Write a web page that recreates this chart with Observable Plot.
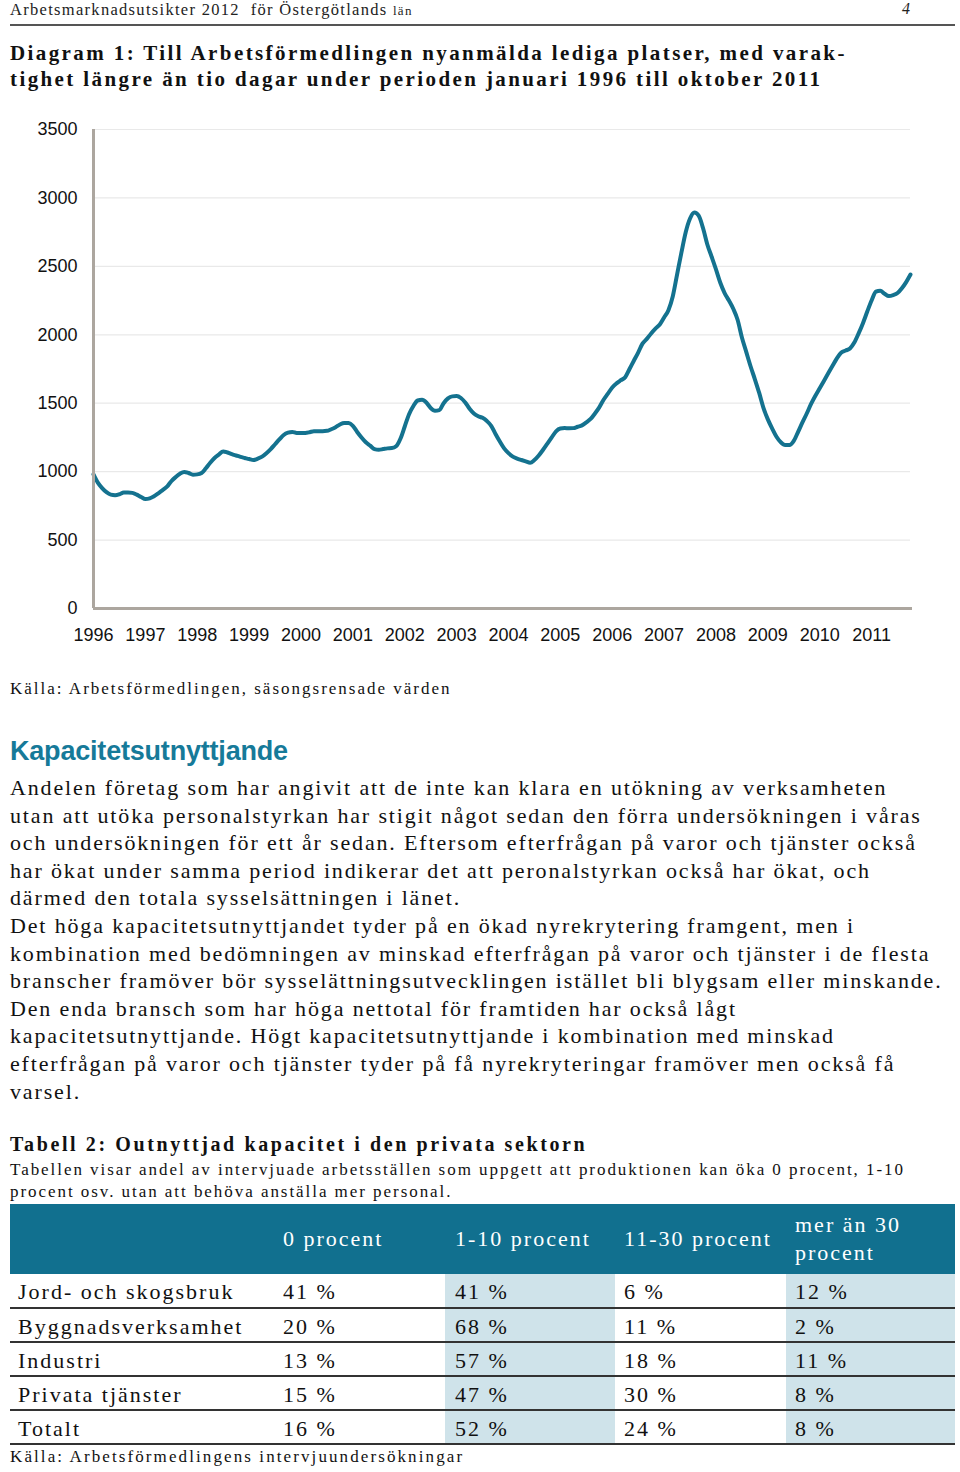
<!DOCTYPE html>
<html>
<head>
<meta charset="utf-8">
<script src="https://cdn.jsdelivr.net/npm/d3@7"></script>
<script src="https://cdn.jsdelivr.net/npm/@observablehq/plot@0.6"></script>
<style>
  html, body { margin: 0; padding: 0; background: #fff; }
  body { width: 960px; height: 1472px; position: relative; overflow: hidden; font-family: "Liberation Serif", "DejaVu Serif", serif; color: #111; }
  .abs { position: absolute; white-space: nowrap; }
  #pagehead { left: 10px; top: 0px; font-size: 16.5px; letter-spacing: 1.3px; color: #222; }
  #pagehead .small { font-size: 13px; }
  #pagenum { left: 902px; top: 0px; font-size: 16px; font-style: italic; color: #222; }
  #rule { left: 10px; top: 24px; width: 945px; height: 2px; background: #555; }
  #title { left: 10px; top: 41px; font-size: 21px; font-weight: bold; letter-spacing: 2.4px; line-height: 25.5px; }
  #chart { left: 0; top: 110px; }
  #source1 { left: 10px; top: 679px; font-size: 17px; letter-spacing: 2.0px; }
  #heading { left: 10px; top: 736px; font-family: "Liberation Sans", Arial, sans-serif; font-weight: bold; font-size: 27px; color: #167a99; letter-spacing: -0.2px; }
  #bodytext { left: 10px; top: 774px; font-size: 22px; line-height: 27.6px; letter-spacing: 1.85px; }
  #tabtitle { left: 10px; top: 1133px; font-size: 20px; font-weight: bold; letter-spacing: 2.6px; }
  #tabsub { left: 10px; top: 1159px; font-size: 17px; line-height: 22px; letter-spacing: 1.95px; }
  #table { left: 10px; top: 1204px; width: 945px; border-collapse: collapse; table-layout: fixed; font-size: 22px; letter-spacing: 2px; }
  #table td, #table th { padding: 0; vertical-align: middle; text-align: left; font-weight: normal; box-sizing: border-box; overflow: hidden; }
  #table thead tr { height: 70px; background: #11708f; color: #fff; }
  #table thead th { line-height: 28px; }
  #table tbody tr { height: 34px; border-bottom: 2px solid #333; }
  #table tbody td { padding-top: 3px; }
  #table .c0 { width: 263px; padding-left: 8px; }
  #table .c1 { width: 172px; padding-left: 10px; }
  #table .c2 { width: 170px; padding-left: 10px; }
  #table .c3 { width: 171px; padding-left: 9px; }
  #table .c4 { width: 169px; padding-left: 9px; }
  #table tbody .c2, #table tbody .c4 { background: #cfe3ea; }
  #source2 { left: 10px; top: 1447px; font-size: 17px; letter-spacing: 2.1px; }
</style>
</head>
<body>
<div id="pagehead" class="abs">Arbetsmarknadsutsikter 2012&nbsp; för Östergötlands <span class="small">län</span></div>
<div id="pagenum" class="abs">4</div>
<div id="rule" class="abs"></div>
<div id="title" class="abs">Diagram 1: Till Arbetsförmedlingen nyanmälda lediga platser, med varak-<br>tighet längre än tio dagar under perioden januari 1996 till oktober 2011</div>
<div id="chart" class="abs"></div>
<div id="source1" class="abs">Källa: Arbetsförmedlingen, säsongsrensade värden</div>
<div id="heading" class="abs">Kapacitetsutnyttjande</div>
<div id="bodytext" class="abs"></div>
<div id="tabtitle" class="abs">Tabell 2: Outnyttjad kapacitet i den privata sektorn</div>
<div id="tabsub" class="abs">Tabellen visar andel av intervjuade arbetsställen som uppgett att produktionen kan öka 0 procent, 1-10<br>procent osv. utan att behöva anställa mer personal.</div>
<table id="table" class="abs"></table>
<div id="source2" class="abs">Källa: Arbetsförmedlingens intervjuundersökningar</div>

<script>
// ---- Chart data: monthly values, Jan 1996 – Oct 2011 ----
const startYear = 1996;
const v1996 = [980, 920, 880, 850, 832, 828, 835, 848, 848, 845, 832, 815];
const v1997 = [800, 805, 820, 842, 865, 890, 930, 960, 985, 998, 990, 978];
const v1998 = [980, 990, 1025, 1065, 1100, 1125, 1148, 1140, 1128, 1118, 1108, 1100];
const v1999 = [1092, 1085, 1095, 1110, 1135, 1165, 1200, 1235, 1268, 1285, 1290, 1283];
const v2000 = [1283, 1283, 1288, 1296, 1296, 1296, 1298, 1310, 1325, 1345, 1356, 1355];
const v2001 = [1335, 1290, 1250, 1215, 1190, 1165, 1160, 1165, 1170, 1172, 1185, 1240];
const v2002 = [1330, 1420, 1480, 1520, 1525, 1505, 1465, 1445, 1450, 1500, 1535, 1550];
const v2003 = [1552, 1538, 1505, 1460, 1425, 1405, 1393, 1370, 1335, 1275, 1220, 1170];
const v2004 = [1135, 1110, 1095, 1085, 1075, 1065, 1085, 1118, 1160, 1205, 1250, 1295];
const v2005 = [1315, 1318, 1317, 1318, 1328, 1338, 1360, 1385, 1425, 1470, 1525, 1570];
const v2006 = [1615, 1645, 1668, 1690, 1750, 1810, 1870, 1935, 1970, 2010, 2045, 2075];
const v2007 = [2126, 2180, 2280, 2440, 2600, 2750, 2850, 2893, 2870, 2780, 2660, 2570];
const v2008 = [2478, 2380, 2305, 2250, 2190, 2110, 1980, 1875, 1770, 1675, 1575, 1465];
const v2009 = [1382, 1315, 1255, 1215, 1195, 1195, 1225, 1291, 1360, 1425, 1495, 1555];
const v2010 = [1610, 1665, 1720, 1775, 1830, 1870, 1885, 1900, 1943, 2010, 2085, 2170];
const v2011 = [2250, 2315, 2322, 2300, 2283, 2290, 2305, 2340, 2385, 2440];
const yearTicks = [1996, 1997, 1998, 1999, 2000, 2001, 2002, 2003, 2004, 2005, 2006, 2007, 2008, 2009, 2010, 2011];
const valueTicks = [0, 500, 1000, 1500, 2000, 2500, 3000, 3500];

// ---- Table data ----
const tableColumns = ["0 procent", "1-10 procent", "11-30 procent", "mer än 30<br>procent"];
const tableRows = ["Jord- och skogsbruk", "Byggnadsverksamhet", "Industri", "Privata tjänster", "Totalt"];
const col0 = ["41 %", "20 %", "13 %", "15 %", "16 %"];
const col1 = ["41 %", "68 %", "57 %", "47 %", "52 %"];
const col2 = ["6 %", "11 %", "18 %", "30 %", "24 %"];
const col3 = ["12 %", "2 %", "11 %", "8 %", "8 %"];

// ---- Body text lines ----
const bodyLines = [
  "Andelen företag som har angivit att de inte kan klara en utökning av verksamheten",
  "utan att utöka personalstyrkan har stigit något sedan den förra undersökningen i våras",
  "och undersökningen för ett år sedan. Eftersom efterfrågan på varor och tjänster också",
  "har ökat under samma period indikerar det att peronalstyrkan också har ökat, och",
  "därmed den totala sysselsättningen i länet.",
  "Det höga kapacitetsutnyttjandet tyder på en ökad nyrekrytering framgent, men i",
  "kombination med bedömningen av minskad efterfrågan på varor och tjänster i de flesta",
  "branscher framöver bör sysselättningsutvecklingen istället bli blygsam eller minskande.",
  "Den enda bransch som har höga nettotal för framtiden har också lågt",
  "kapacitetsutnyttjande. Högt kapacitetsutnyttjande i kombination med minskad",
  "efterfrågan på varor och tjänster tyder på få nyrekryteringar framöver men också få",
  "varsel."
];

document.getElementById("bodytext").innerHTML = bodyLines.join("<br>");

// build table
const tbl = document.getElementById("table");
let html = "<thead><tr><th class='c0'></th>" + tableColumns.map((c, i) => `<th class='c${i + 1}'>${c}</th>`).join("") + "</tr></thead><tbody>";
tableRows.forEach((r, i) => {
  html += `<tr><td class='c0'>${r}</td><td class='c1'>${col0[i]}</td><td class='c2'>${col1[i]}</td><td class='c3'>${col2[i]}</td><td class='c4'>${col3[i]}</td></tr>`;
});
html += "</tbody>";
tbl.innerHTML = html;

// build series
const years = [v1996, v1997, v1998, v1999, v2000, v2001, v2002, v2003, v2004, v2005, v2006, v2007, v2008, v2009, v2010, v2011];
const series = [];
years.forEach((arr, yi) => arr.forEach((v, m) => series.push({t: startYear + yi + m / 12, v})));

const lastT = series[series.length - 1].t;

const chart = Plot.plot({
  width: 960,
  height: 545,
  marginTop: 19,
  marginBottom: 47,
  marginLeft: 93,
  marginRight: 960 - 910,
  style: { fontFamily: "'Liberation Sans', Arial, sans-serif", fontSize: "18px", color: "#111", background: "transparent" },
  x: { domain: [startYear, lastT], ticks: yearTicks, tickFormat: d => String(d), tickSize: 0, tickPadding: 21, label: null },
  y: { domain: [0, 3500], ticks: valueTicks, tickFormat: d => String(d), tickSize: 0, tickPadding: 16, label: null },
  marks: [
    Plot.ruleY(valueTicks.filter(d => d > 0), { stroke: "#e9e9e9", strokeWidth: 1.2 }),
    Plot.line(series, { x: "t", y: "v", stroke: "#14728f", strokeWidth: 4, curve: "monotone-x", strokeLinejoin: "round", strokeLinecap: "round" }),
    Plot.ruleX([startYear], { stroke: "#aca69f", strokeWidth: 3, y1: 0, y2: 3500 }),
    Plot.ruleY([0], { stroke: "#aca69f", strokeWidth: 3, insetRight: -2 }),
    Plot.axisX({ ticks: yearTicks, tickFormat: d => String(d), tickSize: 0, tickPadding: 20, fontSize: 18, fill: "#111" }),
    Plot.axisY({ ticks: valueTicks, tickFormat: d => String(d), tickSize: 0, tickPadding: 16, fontSize: 18, fill: "#111" })
  ]
});
document.getElementById("chart").appendChild(chart);
</script>
</body>
</html>
